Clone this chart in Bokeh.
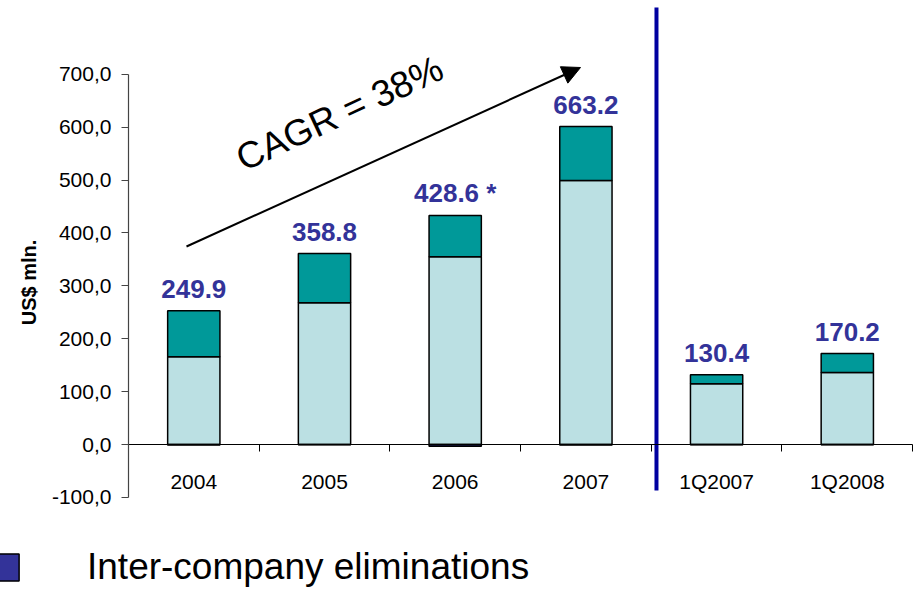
from math import radians

from bokeh.core.properties import value
from bokeh.embed import file_html
from bokeh.models import (Arrow, ColumnDataSource, FixedTicker, Label, Legend,
                          LegendItem, NormalHead, Range1d)
from bokeh.plotting import figure
from bokeh.resources import INLINE

# ---- data (US$ mln.) ----
categories = ["2004", "2005", "2006", "2007", "1Q2007", "1Q2008"]
base_segment = [166, 268, 355, 499, 115, 136]
upper_segment = [87, 93, 78, 102, 17, 36]
eliminations = [-0.8, -0.6, -3.5, -0.9, -0.4, -0.5]
total_labels = ["249.9", "358.8", "428.6 *", "663.2", "130.4", "170.2"]

y_ticks = [-100, 0, 100, 200, 300, 400, 500, 600, 700]
y_tick_labels = ["-100,0", "0,0", "100,0", "200,0", "300,0",
                 "400,0", "500,0", "600,0", "700,0"]

cagr_text = "CAGR = 38%"
legend_text = "Inter-company eliminations"

# ---- page geometry ----
W, H = 918, 589
X0_PX, X_STEP = 193.3, 130.7      # pixel centre of first category, pixels per category
Y0_PX, Y_SCALE = 444.0, 0.529     # pixel row of zero, pixels per US$ mln.


def sx(px):
    """page pixel column -> data x"""
    return (px - X0_PX) / X_STEP


def sy(py):
    """page pixel row -> data y"""
    return (Y0_PX - py) / Y_SCALE


FONT = "Liberation Sans"
LIGHT = "#BBE0E3"
TEAL = "#009999"
NAVY = "#333399"

xs = list(range(len(categories)))
base_top = base_segment
upper_top = [b + u for b, u in zip(base_segment, upper_segment)]

src = ColumnDataSource(dict(
    x=xs,
    base_top=base_top,
    upper_top=upper_top,
    elim=eliminations,
    zero=[0] * len(xs),
    label=total_labels,
))

p = figure(width=W, height=H,
           x_range=Range1d(sx(0), sx(W)),
           y_range=Range1d(sy(H), sy(0)),
           output_backend="svg", toolbar_location=None,
           min_border=0, outline_line_color=None)
p.grid.visible = False
p.background_fill_color = "white"

BAR_W = 0.4
p.vbar(x="x", bottom="zero", top="base_top", width=BAR_W, source=src,
       fill_color=LIGHT, line_color="black", line_width=1.5)
p.vbar(x="x", bottom="base_top", top="upper_top", width=BAR_W, source=src,
       fill_color=TEAL, line_color="black", line_width=1.5)
r_elim = p.vbar(x="x", bottom="elim", top="zero", width=BAR_W, source=src,
                fill_color=NAVY, line_color="black", line_width=1.5)

# totals above the bars
p.text(x="x", y="upper_top", text="label", source=src,
       text_align="center", text_baseline="alphabetic", y_offset=-22,
       text_font=value(FONT), text_font_style="bold",
       text_font_size="26px", text_color=NAVY)

# divider between annual and quarterly figures
divider_x = 3.54
p.segment(x0=[divider_x], y0=[sy(7)], x1=[divider_x], y1=[sy(490)],
          line_color="#0000A0", line_width=4)

# ---- x axis along zero ----
xa = p.xaxis[0]
xa.fixed_location = 0
xa.ticker = FixedTicker(ticks=xs, minor_ticks=[i - 0.5 for i in range(len(xs) + 1)])
xa.major_label_overrides = {i: c for i, c in zip(xs, categories)}
xa.bounds = (-0.5, len(xs) - 0.5)
xa.major_tick_in = 0
xa.major_tick_out = 0
xa.minor_tick_in = 0
xa.minor_tick_out = 7
xa.minor_tick_line_color = "black"
xa.axis_line_color = "black"
xa.axis_line_width = 1.2
xa.major_label_standoff = 18
xa.major_label_text_font = FONT
xa.major_label_text_font_size = "21px"
xa.major_label_text_color = "black"

# ---- y axis ----
ya = p.yaxis[0]
ya.fixed_location = -0.5
ya.ticker = FixedTicker(ticks=y_ticks)
ya.major_label_overrides = {t: s for t, s in zip(y_ticks, y_tick_labels)}
ya.bounds = (y_ticks[0], y_ticks[-1])
ya.major_tick_in = 0
ya.major_tick_out = 7
ya.minor_tick_in = 0
ya.minor_tick_out = 0
ya.axis_line_color = "#444444"
ya.major_tick_line_color = "#444444"
ya.axis_line_width = 1.2
ya.major_label_standoff = 10
ya.major_label_text_font = FONT
ya.major_label_text_font_size = "21px"
ya.major_label_text_color = "black"

p.add_layout(Label(x=sx(28), y=sy(282), text="US$ mln.", angle=radians(90),
                   text_align="center", text_baseline="middle",
                   text_font=FONT, text_font_style="bold",
                   text_font_size="20px", text_color="black"))

# ---- growth annotation ----
p.add_layout(Arrow(end=NormalHead(size=18, fill_color="black", line_color="black"),
                   x_start=sx(186), y_start=sy(246), x_end=sx(580), y_end=sy(67),
                   line_color="black", line_width=2))
p.add_layout(Label(x=sx(238), y=sy(160), text=cagr_text, angle=radians(25),
                   text_align="left", text_baseline="alphabetic",
                   text_font=FONT, text_font_size="37px", text_color="black"))

# ---- legend ----
legend = Legend(items=[LegendItem(label=legend_text, renderers=[r_elim])],
                location=(-12, 1), orientation="vertical",
                glyph_width=34, glyph_height=34, label_standoff=65,
                label_text_font=FONT, label_text_font_size="37px",
                label_text_color="black",
                border_line_color=None, background_fill_alpha=0,
                padding=0, margin=0, spacing=0)
p.add_layout(legend)

open("out.html", "w").write(file_html(p, INLINE))
